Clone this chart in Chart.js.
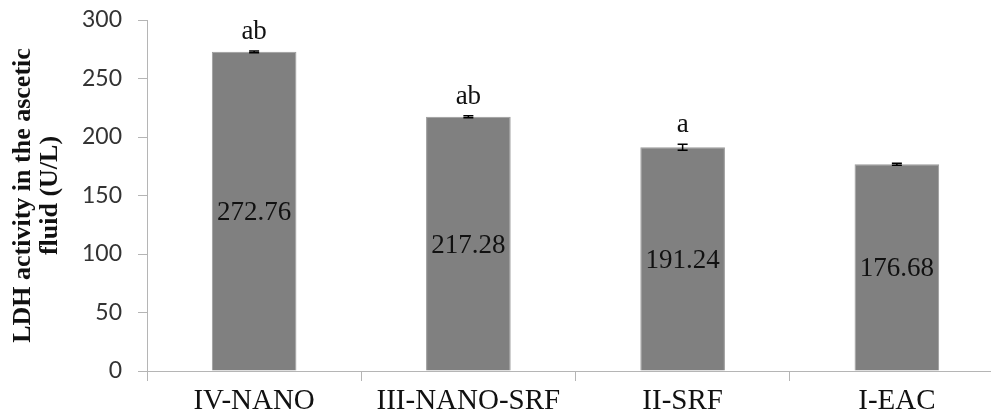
<!DOCTYPE html>
<html>
<head>
<meta charset="utf-8">
<script src="https://cdn.jsdelivr.net/npm/chart.js@4.4.1/dist/chart.umd.min.js"></script>
<style>
  html, body { margin: 0; padding: 0; background: #fff; overflow: hidden; }
  #wrap { width: 1004px; height: 419px; position: relative; }
</style>
</head>
<body>
<div id="wrap"><canvas id="c"></canvas></div>
<script>
// LDH activity per treatment group
const groups = ['IV-NANO', 'III-NANO-SRF', 'II-SRF', 'I-EAC'];
const ldhMeans = [272.76, 217.28, 191.24, 176.68];
const ldhErrors = [0.8, 0.8, 2.5, 0.8];
const sigLetters = ['ab', 'ab', 'a', ''];
const yTicks = [0, 50, 100, 150, 200, 250, 300];

const SERIF = '"Liberation Serif", "Times New Roman", serif';

// Error bars, value labels inside the bars and significance letters above them
const barAnnotations = {
  id: 'barAnnotations',
  afterDatasetsDraw(chart) {
    const { ctx } = chart;
    const yScale = chart.scales.y;
    const meta = chart.getDatasetMeta(0);
    meta.data.forEach((bar, i) => {
      const v = ldhMeans[i];
      const e = ldhErrors[i];
      const yHi = yScale.getPixelForValue(v + e);
      const yLo = yScale.getPixelForValue(v - e);
      ctx.save();
      ctx.strokeStyle = '#000';
      ctx.lineWidth = 1.5;
      ctx.beginPath();
      ctx.moveTo(bar.x, yHi); ctx.lineTo(bar.x, yLo);
      ctx.moveTo(bar.x - 5, yHi); ctx.lineTo(bar.x + 5, yHi);
      ctx.moveTo(bar.x - 5, yLo); ctx.lineTo(bar.x + 5, yLo);
      ctx.stroke();

      // value in the middle of the bar
      ctx.fillStyle = '#111';
      ctx.font = '27px ' + SERIF;
      ctx.textAlign = 'center';
      ctx.textBaseline = 'middle';
      const mid = (bar.y + bar.base) / 2 + 2;
      ctx.fillText(v.toFixed(2), bar.x, mid);

      // significance letter above the error bar
      if (sigLetters[i]) {
        ctx.textBaseline = 'alphabetic';
        ctx.fillText(sigLetters[i], bar.x, yHi - 12);
      }
      ctx.restore();
    });
  }
};

new Chart(document.getElementById('c'), {
  type: 'bar',
  data: {
    labels: groups,
    datasets: [{
      data: ldhMeans,
      backgroundColor: '#808080',
      borderColor: '#9a9a9a',
      borderWidth: 1,
      categoryPercentage: 1.0,
      barPercentage: 0.395
    }]
  },
  options: {
    responsive: true,
    maintainAspectRatio: false,
    animation: false,
    layout: { padding: { top: 20, right: 0, left: 0, bottom: 0 } },
    plugins: { legend: { display: false }, tooltip: { enabled: false } },
    scales: {
      x: {
        offset: true,
        grid: {
          offset: true,
          drawOnChartArea: false,
          drawTicks: true,
          tickLength: 10,
          color: '#b5b5b5',
          lineWidth: 1
        },
        border: { color: '#b5b5b5', width: 1 },
        ticks: {
          color: '#111',
          font: { family: SERIF, size: 29, lineHeight: 1.0 },
          padding: 6
        },
        afterFit(scale) { scale.height = 48; }
      },
      y: {
        min: 0,
        max: 300,
        afterBuildTicks(scale) { scale.ticks = yTicks.map(v => ({ value: v })); },
        grid: {
          drawOnChartArea: false,
          drawTicks: true,
          tickLength: 9,
          color: '#b5b5b5'
        },
        border: { color: '#b5b5b5', width: 1 },
        ticks: {
          color: '#333',
          font: { family: 'Lato, "Open Sans", sans-serif', size: 23 },
          padding: 16
        },
        title: {
          display: true,
          text: ['LDH activity in the ascetic', 'fluid (U/L)'],
          color: '#111',
          font: { family: SERIF, size: 26, weight: 'bold', lineHeight: 1.04 },
          padding: { top: 10, bottom: 0 }
        },
        afterFit(scale) {
          scale.width = 147;
          scale.paddingTop = 0;
          scale.paddingBottom = 0;
        }
      }
    }
  },
  plugins: [barAnnotations]
});
</script>
</body>
</html>
